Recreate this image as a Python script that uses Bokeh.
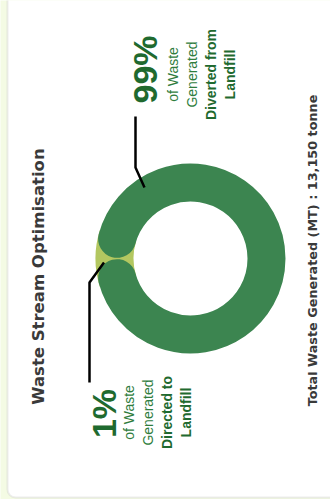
import math
from bokeh.plotting import figure
from bokeh.models import Range1d, BoxAnnotation
from bokeh.core.properties import value
from bokeh.embed import file_html
from bokeh.resources import INLINE

# ---- data ----
categories = ["Diverted from Landfill", "Directed to Landfill"]
shares = [99, 1]
share_labels = ["99%", "1%"]
label_lines_diverted = ["of Waste", "Generated", "Diverted from", "Landfill"]
label_lines_directed = ["of Waste", "Generated", "Directed to", "Landfill"]
title_text = "Waste Stream Optimisation"
total_text = "Total Waste Generated (MT) : 13,150 tonne"

# ---- layout (screen-like coordinates) ----
W, H = 330, 499
X0, Y0 = 0, 0
p = figure(width=W, height=H, x_range=Range1d(X0, X0 + W), y_range=Range1d(Y0 + H, Y0),
           output_backend="svg", toolbar_location=None, min_border=0,
           x_axis_type=None, y_axis_type=None)
p.grid.visible = False
p.outline_line_color = None
p.background_fill_color = "#f4fbe4"
p.border_fill_color = "#f4fbe4"

card = BoxAnnotation(left=7, right=600, top=-100, bottom=497, fill_color="white", fill_alpha=1,
                     line_color="#c2c2c2", line_width=2, border_radius=8, level="underlay")
p.add_layout(card)

DARK = "#3c8550"
LIGHT = "#b3c760"
cx, cy = 190, 258
r_in, r_out = 57, 95
r_mid = (r_in + r_out) / 2
thick = r_out - r_in
total = sum(shares)
small_ang = 2 * math.pi * shares[1] / total
cap_ang = (thick / 2) / r_mid
gap_c = math.pi

# light (1%) slice
half_light = small_ang / 2 + cap_ang + 0.02
p.annular_wedge(x=[cx], y=[cy], inner_radius=r_in, outer_radius=r_out,
                start_angle=[gap_c - half_light], end_angle=[gap_c + half_light],
                direction="anticlock", fill_color=LIGHT, line_color=None)
# dark (99%) slice with rounded ends
h = cap_ang + 0.012
p.arc(x=[cx], y=[cy], radius=r_mid, start_angle=[gap_c + h], end_angle=[gap_c - h + 2 * math.pi],
      direction="anticlock", line_color=DARK, line_width=thick, line_cap="round")

# leader lines
p.line(x=[135, 135, 144], y=[116, 167, 187], line_color="black", line_width=2.5)
p.line(x=[103.5, 89, 89], y=[262, 282, 382], line_color="black", line_width=2.5)

rot = math.pi / 2
TXT_DARK = "#1f6a2f"
TXT_MED = "#2f7d3d"

# percentages
p.text(x=[144, 103], y=[69, 413], text=share_labels, angle=rot, text_align="center",
       text_baseline="alphabetic", text_font=value("Liberation Sans"), text_font_style="bold",
       text_font_size="34px", text_color=TXT_DARK)

def label_block(lines, xs, yc):
    for i, (t, x) in enumerate(zip(lines, xs)):
        bold = i >= 2
        p.text(x=[x], y=[yc], text=[t], angle=rot, text_align="center",
               text_baseline="alphabetic", text_font=value("Liberation Sans"),
               text_font_style="bold" if bold else "normal", text_font_size="14px",
               text_color=TXT_DARK if bold else TXT_MED)

label_block(label_lines_diverted, [172, 191, 210, 229], 74)
label_block(label_lines_directed, [128, 147, 166, 185], 412)

# title and total
p.text(x=[38], y=[276], text=[title_text], angle=rot, text_align="center",
       text_baseline="alphabetic", text_font=value("DejaVu Sans"), text_font_style="bold",
       text_font_size="16.5px", text_color="#3a3a3a")
p.text(x=[312], y=[250], text=[total_text], angle=rot, text_align="center",
       text_baseline="alphabetic", text_font=value("DejaVu Sans"), text_font_style="bold",
       text_font_size="12.8px", text_color="#3a3a3a")

open("out.html", "w").write(file_html(p, INLINE))
